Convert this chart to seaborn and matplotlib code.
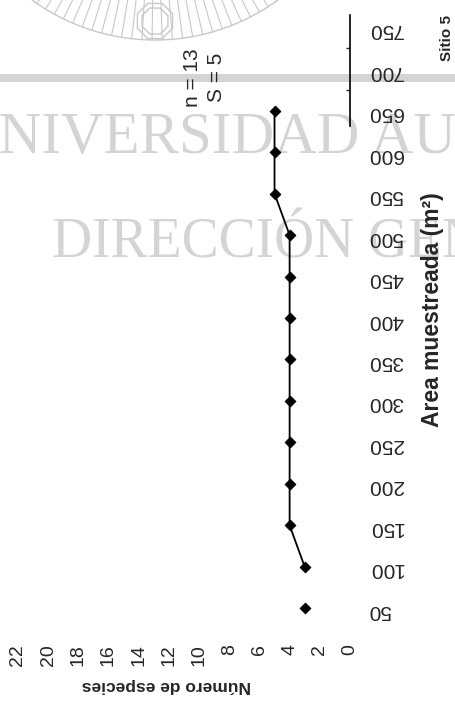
import numpy as np
import pandas as pd
import seaborn as sns
import matplotlib.pyplot as plt
from matplotlib.patches import Polygon, Rectangle, Arc

# Species-area curve, Sitio 5
area = [50, 100, 150, 200, 250, 300, 350, 400, 450, 500, 550, 600, 650]
species = [3, 3, 4, 4, 4, 4, 4, 4, 4, 4, 5, 5, 5]
area_ticks = list(range(50, 751, 50))
species_ticks = list(range(0, 23, 2))
n_samples = 13
s_total = 5

W, H = 456, 715


def fx(px):
    return px / W


def fy(py):
    return 1 - py / H


sns.set_style("white")
plt.rcParams['font.family'] = ['Liberation Sans', 'DejaVu Sans']

fig = plt.figure(figsize=(W / 100, H / 100), dpi=100)

# background: scanned watermark of the page
bg = fig.add_axes([0, 0, 1, 1], zorder=-1)
bg.set_xlim(0, W)
bg.set_ylim(H, 0)
bg.axis('off')
wm = '#d4d4d4'
bg.add_patch(Rectangle((0, 74), W, 8, color=wm, lw=0))
cx, cy, r_out = 155, -169, 209
bg.add_patch(Arc((cx, cy), 2 * r_out, 2 * r_out, theta1=0, theta2=180, color='#c8c8c8', lw=1))
for th in np.deg2rad(np.arange(-40, 41, 2.8)):
    bg.plot([cx + 150 * np.sin(th), cx + r_out * np.sin(th)],
            [cy + 150 * np.cos(th), cy + r_out * np.cos(th)], color='#c8c8c8', lw=0.8)
ang = np.deg2rad(np.arange(22.5, 360, 45))
for rad, fc in [(19, 'white'), (14, 'none')]:
    bg.add_patch(Polygon(np.c_[155 + rad * np.cos(ang), 21 + rad * np.sin(ang)],
                         closed=True, fc=fc, ec='#c8c8c8', lw=1))
bg.text(-44, 153, 'UNIVERSIDAD AUTÓNOMA', fontsize=42.5, color=wm,
        family='Liberation Serif', ha='left', va='baseline')
bg.text(52, 257, 'DIRECCIÓN GENERAL', fontsize=40, color=wm,
        family='Liberation Serif', ha='left', va='baseline')

# main chart (drawn rotated like the scan)
ax = fig.add_axes([fx(10), fy(629), fx(350) - fx(10), fy(7) - fy(629)])
ax.set_facecolor('none')
df = pd.DataFrame({'area': area, 'species': species})
linked = df[df['area'] >= 100]
sns.lineplot(data=linked, x='species', y='area', sort=False, estimator=None,
             color='black', lw=1.3, ax=ax)
sns.scatterplot(data=df, x='species', y='area', marker='D', s=32,
                color='black', edgecolor='black', ax=ax, zorder=3)

ax.set_xlim(22.52, 0)
ax.set_ylim(25, 775)
ax.set_xticks(species_ticks)
ax.set_xticklabels([str(v) for v in species_ticks], rotation=90, fontsize=14)
ax.yaxis.tick_right()
ax.set_yticks(area_ticks)
ax.set_yticklabels([str(v) for v in area_ticks], rotation=180, fontsize=15)
ax.set_yticks([675, 725], minor=True)
ax.tick_params(axis='x', length=0, pad=11)
ax.tick_params(axis='y', which='major', length=0, pad=13)
ax.tick_params(axis='y', which='minor', right=True, left=False, direction='in',
               length=3, width=1)
for side in ['left', 'top', 'bottom']:
    ax.spines[side].set_visible(False)
ax.spines['right'].set_bounds(632, 765)
ax.spines['right'].set_linewidth(1.2)
ax.spines['right'].set_color('black')

ax.set_xlabel('Número de especies', fontsize=12.5, fontweight='bold',
              rotation=180, ha='center', va='center')
ax.xaxis.set_label_coords((166 - 10) / 340, (629 - 685) / 622)
ax.yaxis.set_label_position('right')
ax.set_ylabel('Area muestreada (m²)', fontsize=16.5, fontweight='bold',
              rotation=90, ha='center', va='center')
ax.yaxis.set_label_coords((433 - 10) / 340, (629 - 310) / 622)

fig.text(fx(193), fy(78), f'n = {n_samples}', rotation=90, fontsize=15,
         ha='center', va='center')
fig.text(fx(217), fy(77), f'S = {s_total}', rotation=90, fontsize=15,
         ha='center', va='center')
fig.text(fx(447), fy(38), 'Sitio 5', rotation=90, fontsize=11, fontweight='bold',
         ha='center', va='center')

fig.savefig('out.png', dpi=100)
